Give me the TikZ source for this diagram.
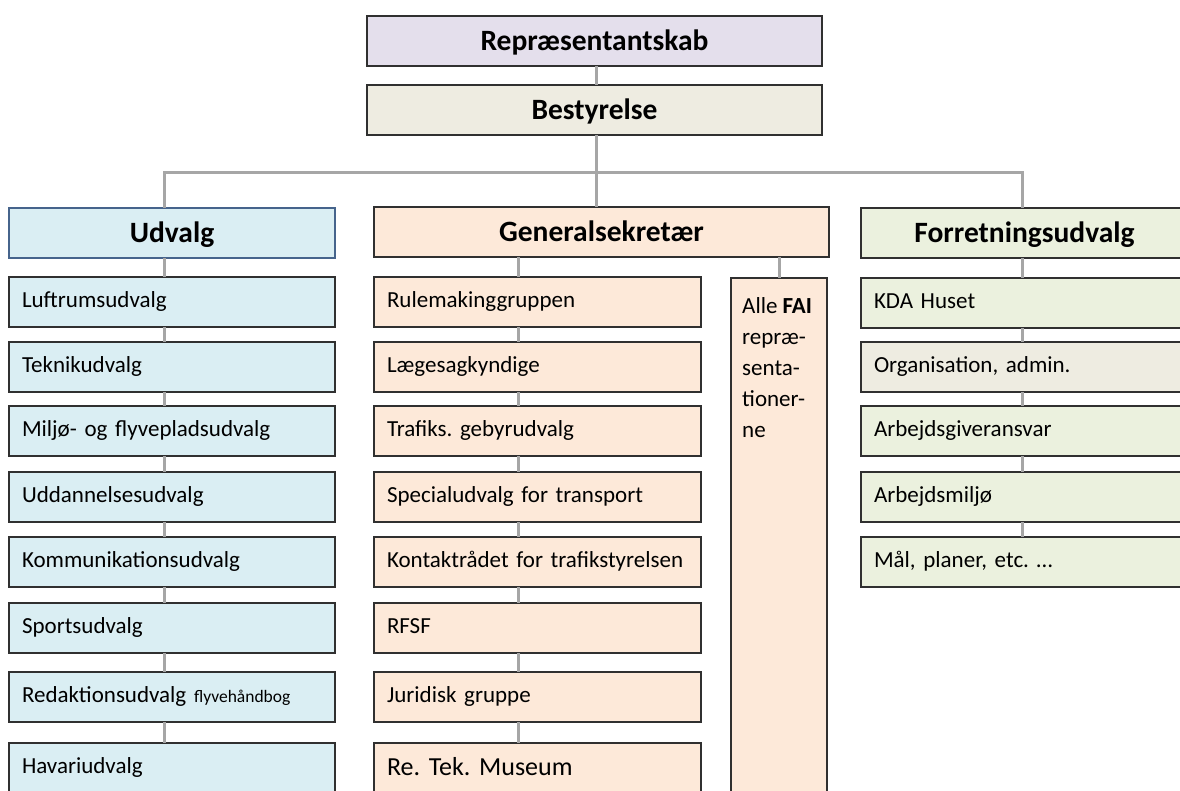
\documentclass[tikz,border=0pt]{standalone}
\usepackage{fontspec}
\setmainfont{Carlito}
\frenchspacing
\definecolor{lilla}{HTML}{E4DFEC}
\definecolor{beige}{HTML}{EEECE1}
\definecolor{blaa}{HTML}{DAEEF3}
\definecolor{fersken}{HTML}{FDE9D9}
\definecolor{groen}{HTML}{EBF1DE}
\definecolor{linjegraa}{HTML}{A6A6A6}
\definecolor{kant}{HTML}{303030}
\definecolor{blaakant}{HTML}{46648C}
\tikzset{
  boks/.style={draw=kant, line width=1.3pt, anchor=north west, inner ysep=0pt, minimum height=50pt, outer sep=0pt},
  hoved/.style={boks, font=\bfseries\fontsize{29.5}{34}\selectfont, inner xsep=0pt, text height=22pt, text depth=3pt},
  punkt/.style={boks, font=\fontsize{23}{28}\selectfont, inner xsep=13pt, align=left, text height=16pt, text depth=5pt},
  forb/.style={draw=linjegraa, line width=3pt},
}
\begin{document}
\begin{tikzpicture}[x=1pt, y=-1pt]
  \useasboundingbox (0,0) rectangle (1180,790);
  \clip (0,0) rectangle (1180,790);
  \coordinate (midt) at (596,0); \coordinate (sA) at (164,0);
  \coordinate (sB) at (518,0); \coordinate (sC) at (1022,0);
  \coordinate (bjaelke) at (0,172);

  \node[hoved, fill=lilla, minimum width=455pt] (rep) at (367,16) {Repræsentantskab};
  \node[hoved, fill=beige, minimum width=455pt] (best) at (367,85) {Bestyrelse};
  \node[hoved, fill=blaa, draw=blaakant, minimum width=326pt] (udv) at (9,208) {Udvalg};
  \node[hoved, fill=fersken, minimum width=455pt] (gen) at (374,207) {Generalsekretær};
  \node[hoved, fill=groen, minimum width=327pt] (forr) at (861,208) {Forretningsudvalg};

  \foreach \i/\y/\t in {1/277/Luftrumsudvalg, 2/342/Teknikudvalg,
      3/406/Miljø- og flyvepladsudvalg, 4/472/Uddannelsesudvalg,
      5/537/Kommunikationsudvalg, 6/603/Sportsudvalg,
      7/672/{Redaktionsudvalg {\fontsize{17.5}{20}\selectfont flyvehåndbog}},
      8/743/Havariudvalg}
    \node[punkt, fill=blaa, text width=300pt] (u\i) at (9,\y) {\t};

  \foreach \i/\y/\t in {1/277/Rulemakinggruppen, 2/342/Lægesagkyndige,
      3/406/Trafiks. gebyrudvalg, 4/472/Specialudvalg for transport,
      5/537/Kontaktrådet for trafikstyrelsen, 6/603/RFSF,
      7/672/Juridisk gruppe}
    \node[punkt, fill=fersken, text width=301pt] (g\i) at (374,\y) {\t};
  \node[punkt, fill=fersken, text width=301pt, font=\fontsize{26}{30}\selectfont,
    text height=20pt, text depth=6pt] (g8) at (374,743) {Re. Tek. Museum};

  \foreach \i/\y/\f/\t in {1/278/groen/KDA Huset, 2/342/beige/{Organisation, admin.},
      3/406/groen/Arbejdsgiveransvar, 4/472/groen/Arbejdsmiljø,
      5/537/groen/{Mål, planer, etc. …}}
    \node[punkt, fill=\f, text width=301pt] (f\i) at (861,\y) {\t};

  \node[boks, fill=fersken, minimum width=96pt, minimum height=540pt] (fai) at (731,278) {};
  \node[anchor=north west, inner sep=0pt, align=left, font=\fontsize{23}{31}\selectfont]
    (faitekst) at ([xshift=11pt, yshift=-19pt]fai.north west)
    {Alle \textbf{FAI}\\repræ-\\senta-\\tioner-\\ne};

  \draw[forb] (rep.south -| midt) -- (best.north -| midt);
  \draw[forb] (best.south -| midt) -- (gen.north -| midt);
  \draw[forb] (udv.north -| sA) -- (sA |- bjaelke) -- (sC |- bjaelke) -- (forr.north -| sC);
  \draw[forb] (gen.south -| fai) -- (fai.north);

  \draw[forb] (udv.south -| sA) -- (u1.north -| sA);
  \draw[forb] (gen.south -| sB) -- (g1.north -| sB);
  \draw[forb] (forr.south -| sC) -- (f1.north -| sC);
  \foreach \i [count=\j from 2] in {1,...,7} {
    \draw[forb] (u\i.south -| sA) -- (u\j.north -| sA);
    \draw[forb] (g\i.south -| sB) -- (g\j.north -| sB);
  }
  \foreach \i [count=\j from 2] in {1,...,4}
    \draw[forb] (f\i.south -| sC) -- (f\j.north -| sC);
\end{tikzpicture}
\end{document}
